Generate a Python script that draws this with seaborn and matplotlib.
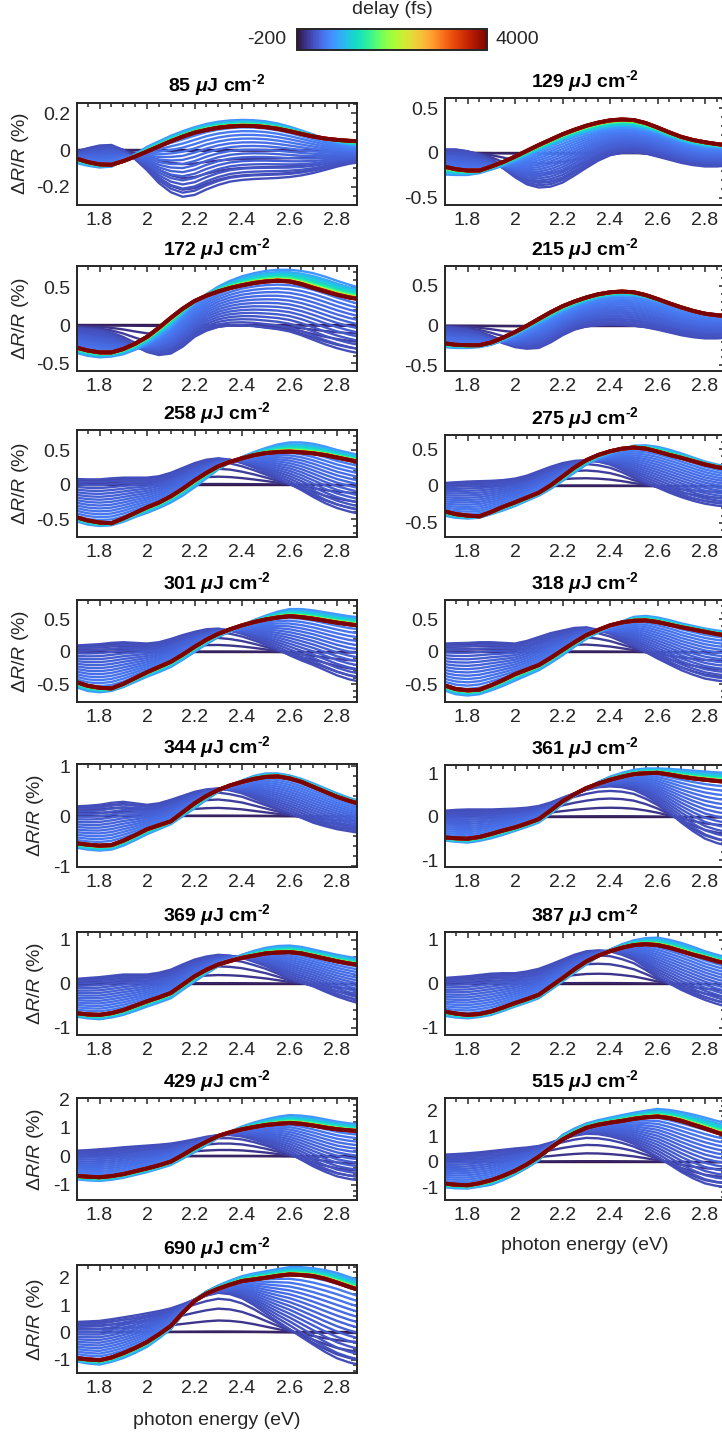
import numpy as np
import pandas as pd
import matplotlib
matplotlib.use("Agg")
import matplotlib.pyplot as plt
import seaborn as sns
from matplotlib.ticker import AutoMinorLocator, FixedLocator, FormatStrFormatter
from matplotlib.cm import ScalarMappable
from matplotlib.colors import Normalize

# ------------------------------------------------------------------ data
energy_eV = [1.70, 1.75, 1.80, 1.85, 1.90, 1.95, 2.00, 2.05, 2.10, 2.15, 2.20, 2.25, 2.30,
             2.35, 2.40, 2.45, 2.50, 2.55, 2.60, 2.65, 2.70, 2.75, 2.80, 2.85, 2.90]
fluences = [85, 129, 172, 215, 258, 275, 301, 318, 344, 361, 369, 387, 429, 515, 690]

delays_fs = [-200, -100, 0, 50, 100, 150,
             170, 190, 210, 230, 250, 270, 290, 310, 330, 350, 375, 400, 430, 470, 520, 600,
             750, 900, 1000, 1200, 1400, 1700, 2000, 2400, 2800, 3200, 3600, 3800, 4000]
# progress of each delay: 0 = no signal, 1 = early spectrum, 2 = maximum spectrum, 3 = final spectrum
progress = [0.0, 0.02, 0.3, 0.6, 0.85, 1.0,
            1.0625, 1.125, 1.1875, 1.25, 1.3125, 1.375, 1.4375, 1.5, 1.5625, 1.625, 1.6875, 1.75,
            1.8125, 1.875, 1.9375, 2.0,
            2.2, 2.35, 2.48, 2.62, 2.72, 2.8, 2.86, 2.9, 2.93, 2.96, 2.98, 2.99, 3.0]

early_85 = [-0.01, 0.01, 0.025, 0.028, 0.0, -0.05, -0.11, -0.18, -0.23, -0.255, -0.245, -0.215, -0.19,
            -0.172, -0.163, -0.158, -0.155, -0.152, -0.147, -0.138, -0.125, -0.108, -0.09, -0.075, -0.065]
peak_85 = [-0.07, -0.085, -0.095, -0.09, -0.06, -0.022, 0.018, 0.048, 0.078, 0.103, 0.125, 0.143, 0.155,
           0.162, 0.165, 0.163, 0.157, 0.145, 0.128, 0.107, 0.085, 0.062, 0.042, 0.028, 0.02]
final_85 = [-0.045, -0.065, -0.078, -0.08, -0.06, -0.035, -0.008, 0.02, 0.048, 0.073, 0.095, 0.11, 0.122,
            0.129, 0.132, 0.131, 0.125, 0.116, 0.103, 0.088, 0.074, 0.063, 0.056, 0.051, 0.048]

early_129 = [0.04, 0.04, 0.02, -0.02, -0.08, -0.17, -0.27, -0.35, -0.385, -0.375, -0.33, -0.25, -0.165,
             -0.085, -0.025, 0.005, 0.01, -0.005, -0.04, -0.075, -0.11, -0.135, -0.15, -0.15, -0.14]
peak_129 = [-0.24, -0.245, -0.245, -0.225, -0.185, -0.14, -0.09, -0.035, 0.02, 0.075, 0.13, 0.18, 0.22,
            0.255, 0.275, 0.285, 0.28, 0.255, 0.22, 0.175, 0.13, 0.095, 0.07, 0.06, 0.055]
final_129 = [-0.15, -0.18, -0.195, -0.195, -0.15, -0.1, -0.04, 0.025, 0.09, 0.15, 0.21, 0.26, 0.305,
             0.34, 0.365, 0.375, 0.368, 0.335, 0.285, 0.23, 0.18, 0.145, 0.12, 0.1, 0.085]

early_172 = [-0.04, -0.05, -0.07, -0.11, -0.18, -0.27, -0.35, -0.39, -0.37, -0.28, -0.15, -0.07, -0.02,
             0.0, 0.0, -0.01, -0.03, -0.05, -0.08, -0.13, -0.19, -0.25, -0.3, -0.34, -0.37]
peak_172 = [-0.36, -0.4, -0.42, -0.41, -0.38, -0.32, -0.24, -0.14, -0.02, 0.14, 0.29, 0.41, 0.51,
            0.585, 0.645, 0.685, 0.715, 0.73, 0.73, 0.715, 0.685, 0.64, 0.585, 0.535, 0.49]
final_172 = [-0.29, -0.33, -0.355, -0.355, -0.31, -0.24, -0.15, -0.03, 0.1, 0.22, 0.32, 0.39, 0.445,
             0.49, 0.525, 0.555, 0.575, 0.585, 0.575, 0.54, 0.49, 0.445, 0.4, 0.365, 0.34]

early_215 = [-0.02, -0.03, -0.05, -0.09, -0.15, -0.22, -0.27, -0.29, -0.28, -0.21, -0.12, -0.05, -0.01,
             0.01, 0.02, 0.015, 0.0, -0.02, -0.05, -0.085, -0.12, -0.145, -0.16, -0.16, -0.15]
peak_215 = [-0.27, -0.28, -0.28, -0.27, -0.24, -0.185, -0.12, -0.045, 0.03, 0.105, 0.18, 0.245, 0.3,
            0.345, 0.37, 0.38, 0.375, 0.35, 0.31, 0.265, 0.22, 0.185, 0.16, 0.145, 0.14]
final_215 = [-0.22, -0.24, -0.245, -0.245, -0.21, -0.15, -0.08, 0.0, 0.085, 0.17, 0.245, 0.305, 0.355,
             0.395, 0.42, 0.43, 0.42, 0.385, 0.335, 0.28, 0.23, 0.185, 0.15, 0.13, 0.12]

early_258 = [0.08, 0.075, 0.075, 0.09, 0.1, 0.1, 0.1, 0.12, 0.17, 0.24, 0.31, 0.36, 0.38,
             0.36, 0.31, 0.245, 0.17, 0.09, 0.01, -0.08, -0.18, -0.27, -0.34, -0.39, -0.43]
peak_258 = [-0.53, -0.58, -0.6, -0.59, -0.54, -0.47, -0.41, -0.34, -0.26, -0.16, -0.04, 0.09, 0.22,
            0.32, 0.4, 0.47, 0.53, 0.58, 0.61, 0.61, 0.59, 0.55, 0.5, 0.46, 0.42]
final_258 = [-0.47, -0.52, -0.55, -0.56, -0.49, -0.41, -0.33, -0.26, -0.17, -0.06, 0.06, 0.17, 0.265,
             0.33, 0.38, 0.425, 0.455, 0.47, 0.475, 0.465, 0.45, 0.425, 0.39, 0.355, 0.32]

early_275 = [0.04, 0.05, 0.06, 0.065, 0.07, 0.08, 0.1, 0.14, 0.2, 0.26, 0.31, 0.34, 0.35,
             0.33, 0.29, 0.22, 0.13, 0.05, -0.02, -0.09, -0.15, -0.2, -0.24, -0.265, -0.28]
peak_275 = [-0.4, -0.43, -0.44, -0.43, -0.38, -0.33, -0.27, -0.2, -0.13, -0.04, 0.07, 0.18, 0.29,
            0.38, 0.44, 0.5, 0.545, 0.55, 0.53, 0.49, 0.44, 0.385, 0.33, 0.29, 0.26]
final_275 = [-0.34, -0.38, -0.4, -0.41, -0.35, -0.28, -0.22, -0.155, -0.09, 0.01, 0.13, 0.25, 0.35,
             0.42, 0.47, 0.505, 0.52, 0.505, 0.465, 0.42, 0.38, 0.335, 0.29, 0.255, 0.23]

early_301 = [0.1, 0.11, 0.12, 0.14, 0.15, 0.14, 0.13, 0.15, 0.2, 0.26, 0.31, 0.35, 0.36,
             0.33, 0.28, 0.21, 0.13, 0.04, -0.05, -0.13, -0.2, -0.28, -0.36, -0.42, -0.46]
peak_301 = [-0.54, -0.6, -0.62, -0.6, -0.54, -0.46, -0.38, -0.31, -0.23, -0.12, 0.0, 0.12, 0.23,
            0.32, 0.41, 0.49, 0.56, 0.62, 0.66, 0.66, 0.64, 0.61, 0.58, 0.55, 0.53]
final_301 = [-0.46, -0.52, -0.55, -0.56, -0.49, -0.4, -0.31, -0.23, -0.15, -0.04, 0.08, 0.19, 0.28,
             0.35, 0.41, 0.46, 0.5, 0.53, 0.55, 0.535, 0.51, 0.48, 0.45, 0.425, 0.4]

early_318 = [0.13, 0.135, 0.14, 0.15, 0.15, 0.14, 0.13, 0.17, 0.23, 0.29, 0.33, 0.37, 0.38,
             0.34, 0.28, 0.19, 0.1, 0.0, -0.1, -0.19, -0.28, -0.35, -0.41, -0.44, -0.46]
peak_318 = [-0.59, -0.65, -0.67, -0.65, -0.59, -0.52, -0.44, -0.36, -0.28, -0.17, -0.05, 0.08, 0.2,
            0.3, 0.39, 0.47, 0.54, 0.555, 0.53, 0.49, 0.44, 0.4, 0.36, 0.33, 0.31]
final_318 = [-0.51, -0.57, -0.59, -0.58, -0.51, -0.43, -0.34, -0.27, -0.2, -0.09, 0.03, 0.15, 0.26,
             0.34, 0.41, 0.455, 0.48, 0.485, 0.46, 0.42, 0.38, 0.345, 0.31, 0.275, 0.25]

early_344 = [0.2, 0.21, 0.23, 0.27, 0.29, 0.26, 0.23, 0.26, 0.33, 0.41, 0.49, 0.54, 0.56,
             0.52, 0.46, 0.36, 0.26, 0.16, 0.07, -0.03, -0.13, -0.2, -0.26, -0.3, -0.34]
peak_344 = [-0.63, -0.67, -0.69, -0.67, -0.59, -0.48, -0.36, -0.26, -0.16, 0.0, 0.16, 0.33, 0.49,
            0.62, 0.72, 0.81, 0.86, 0.86, 0.82, 0.75, 0.66, 0.56, 0.46, 0.37, 0.3]
final_344 = [-0.54, -0.57, -0.59, -0.58, -0.49, -0.38, -0.26, -0.18, -0.1, 0.08, 0.26, 0.41, 0.53,
             0.62, 0.69, 0.75, 0.79, 0.8, 0.76, 0.69, 0.59, 0.49, 0.39, 0.31, 0.24]

early_361 = [0.14, 0.16, 0.17, 0.17, 0.17, 0.18, 0.19, 0.21, 0.25, 0.33, 0.44, 0.54, 0.62,
             0.68, 0.7, 0.68, 0.62, 0.49, 0.32, 0.1, -0.13, -0.33, -0.5, -0.6, -0.67]
peak_361 = [-0.54, -0.57, -0.59, -0.55, -0.49, -0.41, -0.32, -0.23, -0.13, 0.07, 0.29, 0.48, 0.66,
            0.8, 0.92, 1.01, 1.08, 1.11, 1.11, 1.1, 1.08, 1.06, 1.04, 1.02, 1.01]
final_361 = [-0.47, -0.49, -0.5, -0.46, -0.39, -0.31, -0.24, -0.15, -0.05, 0.15, 0.36, 0.52, 0.66,
             0.76, 0.85, 0.92, 0.98, 1.0, 1.01, 0.97, 0.92, 0.88, 0.85, 0.82, 0.8]

early_369 = [0.11, 0.13, 0.15, 0.18, 0.21, 0.21, 0.21, 0.25, 0.32, 0.44, 0.55, 0.62, 0.66,
             0.64, 0.59, 0.5, 0.4, 0.27, 0.13, 0.03, -0.06, -0.18, -0.29, -0.38, -0.46]
peak_369 = [-0.75, -0.79, -0.81, -0.77, -0.71, -0.62, -0.52, -0.43, -0.33, -0.14, 0.05, 0.23, 0.4,
            0.54, 0.66, 0.75, 0.82, 0.86, 0.87, 0.84, 0.78, 0.72, 0.66, 0.61, 0.57]
final_369 = [-0.67, -0.7, -0.71, -0.67, -0.6, -0.5, -0.4, -0.31, -0.21, -0.02, 0.17, 0.32, 0.44,
             0.52, 0.59, 0.64, 0.69, 0.71, 0.72, 0.69, 0.63, 0.57, 0.51, 0.46, 0.42]

early_387 = [0.13, 0.15, 0.17, 0.2, 0.23, 0.24, 0.24, 0.28, 0.34, 0.44, 0.55, 0.66, 0.74,
             0.76, 0.74, 0.66, 0.55, 0.37, 0.17, 0.01, -0.14, -0.26, -0.37, -0.46, -0.54]
peak_387 = [-0.73, -0.77, -0.79, -0.76, -0.71, -0.62, -0.52, -0.43, -0.33, -0.14, 0.05, 0.25, 0.44,
            0.62, 0.78, 0.9, 0.99, 1.04, 1.05, 1.0, 0.93, 0.84, 0.74, 0.66, 0.59]
final_387 = [-0.63, -0.68, -0.71, -0.69, -0.63, -0.54, -0.44, -0.35, -0.25, -0.06, 0.13, 0.33, 0.51,
             0.64, 0.74, 0.82, 0.88, 0.9, 0.88, 0.82, 0.74, 0.66, 0.59, 0.51, 0.45]

early_429 = [0.2, 0.22, 0.25, 0.28, 0.32, 0.35, 0.38, 0.41, 0.45, 0.52, 0.6, 0.69, 0.75,
             0.75, 0.7, 0.59, 0.45, 0.28, 0.1, -0.12, -0.35, -0.54, -0.7, -0.79, -0.85]
peak_429 = [-0.8, -0.84, -0.86, -0.82, -0.75, -0.65, -0.55, -0.43, -0.3, -0.08, 0.15, 0.4, 0.65,
            0.87, 1.05, 1.19, 1.3, 1.39, 1.45, 1.43, 1.38, 1.3, 1.22, 1.16, 1.12]
final_429 = [-0.68, -0.71, -0.73, -0.69, -0.62, -0.52, -0.42, -0.31, -0.18, 0.05, 0.3, 0.52, 0.72,
             0.85, 0.95, 1.03, 1.1, 1.14, 1.17, 1.14, 1.08, 1.01, 0.95, 0.91, 0.88]

early_515 = [0.28, 0.3, 0.33, 0.37, 0.42, 0.47, 0.52, 0.56, 0.62, 0.75, 0.9, 1.02, 1.1,
             1.08, 1.0, 0.87, 0.7, 0.46, 0.2, -0.1, -0.4, -0.65, -0.85, -0.95, -1.0]
peak_515 = [-1.0, -1.04, -1.05, -0.98, -0.9, -0.72, -0.5, -0.24, 0.05, 0.55, 1.05, 1.3, 1.5,
            1.63, 1.73, 1.83, 1.92, 2.0, 2.07, 2.03, 1.95, 1.85, 1.73, 1.6, 1.5]
final_515 = [-0.85, -0.9, -0.92, -0.84, -0.72, -0.55, -0.35, -0.1, 0.2, 0.55, 0.87, 1.12, 1.33,
             1.45, 1.53, 1.6, 1.68, 1.74, 1.77, 1.71, 1.6, 1.45, 1.3, 1.14, 1.0]

early_690 = [0.38, 0.4, 0.42, 0.48, 0.55, 0.62, 0.7, 0.78, 0.88, 1.03, 1.2, 1.35, 1.45,
             1.4, 1.25, 1.0, 0.7, 0.4, 0.12, -0.17, -0.45, -0.72, -0.95, -1.1, -1.2]
peak_690 = [-1.06, -1.14, -1.18, -1.08, -0.94, -0.75, -0.53, -0.22, 0.12, 0.65, 1.2, 1.5, 1.72,
            1.9, 2.06, 2.16, 2.24, 2.32, 2.39, 2.39, 2.35, 2.28, 2.18, 2.03, 1.88]
final_690 = [-0.94, -0.99, -1.02, -0.92, -0.76, -0.57, -0.35, -0.07, 0.24, 0.72, 1.15, 1.42, 1.6,
             1.75, 1.88, 1.94, 2.0, 2.07, 2.12, 2.1, 2.06, 1.96, 1.82, 1.67, 1.53]

spectra = {
    85: (early_85, peak_85, final_85), 129: (early_129, peak_129, final_129),
    172: (early_172, peak_172, final_172), 215: (early_215, peak_215, final_215),
    258: (early_258, peak_258, final_258), 275: (early_275, peak_275, final_275),
    301: (early_301, peak_301, final_301), 318: (early_318, peak_318, final_318),
    344: (early_344, peak_344, final_344), 361: (early_361, peak_361, final_361),
    369: (early_369, peak_369, final_369), 387: (early_387, peak_387, final_387),
    429: (early_429, peak_429, final_429), 515: (early_515, peak_515, final_515),
    690: (early_690, peak_690, final_690),
}

# ------------------------------------------------------------------ axis settings
ylims = {85: (-0.3, 0.26), 129: (-0.58, 0.61), 172: (-0.6, 0.78), 215: (-0.57, 0.75),
         258: (-0.76, 0.79), 275: (-0.69, 0.69), 301: (-0.77, 0.8), 318: (-0.77, 0.8),
         344: (-1.02, 1.05), 361: (-1.15, 1.19), 369: (-1.17, 1.18), 387: (-1.17, 1.18),
         429: (-1.53, 2.05), 515: (-1.5, 2.5), 690: (-1.49, 2.47)}
yticks = {85: [-0.2, 0, 0.2]}
for f in [129, 172, 215, 258, 275, 301, 318]:
    yticks[f] = [-0.5, 0, 0.5]
for f in [344, 361, 369, 387]:
    yticks[f] = [-1, 0, 1]
for f in [429, 515, 690]:
    yticks[f] = [-1, 0, 1, 2]
xticks = [1.8, 2.0, 2.2, 2.4, 2.6, 2.8]

# panel boxes in pixels: (left, top, width, height)
boxes = {85: (77, 102.5, 280, 102.5), 129: (445, 98.3, 280, 106.7),
         172: (77, 266, 280, 105), 215: (445, 266, 280, 105),
         258: (77, 430, 280, 107), 275: (445, 435, 280, 102),
         301: (77, 600, 280, 102), 318: (445, 600, 280, 102),
         344: (77, 764, 280, 103), 361: (445, 765, 280, 102),
         369: (77, 932, 280, 103), 387: (445, 932, 280, 103),
         429: (77, 1098, 280, 102), 515: (445, 1098, 280, 102),
         690: (77, 1265, 280, 108)}

# ------------------------------------------------------------------ style
sns.set_theme(style="white")
plt.rcParams["font.family"] = ["Liberation Sans", "DejaVu Sans"]
plt.rcParams.update({
    "mathtext.fontset": "custom",
    "mathtext.rm": "Liberation Sans",
    "mathtext.it": "Liberation Sans:italic",
    "mathtext.bf": "Liberation Sans:bold",
    "mathtext.bfit": "Liberation Sans:italic:bold",
    "axes.unicode_minus": False,
})

W, H = 722, 1439
fig = plt.figure(figsize=(W / 100, H / 100), dpi=100)
fig.patch.set_facecolor("white")


def add_axes_px(left, top, width, height):
    return fig.add_axes([left / W, 1 - (top + height) / H, width / W, height / H])


dark = "#262626"
cmap = "turbo"
norm = (-200, 4000)

for f in fluences:
    early, peak, final = (np.array(s) for s in spectra[f])
    rows = []
    for d, p in zip(delays_fs, progress):
        if p <= 1:
            spec = p * early
        elif p <= 2:
            spec = (2 - p) * early + (p - 1) * peak
        else:
            spec = (3 - p) * peak + (p - 2) * final
        for e, v in zip(energy_eV, spec):
            rows.append((d, e, v))
    df = pd.DataFrame(rows, columns=["delay", "energy", "dR"])

    ax = add_axes_px(*boxes[f])
    sns.lineplot(data=df, x="energy", y="dR", hue="delay", palette=cmap,
                 hue_norm=norm, estimator=None, sort=False, legend=False,
                 linewidth=1.7, ax=ax)
    # the latest delays are drawn a little heavier, as in the reference
    for line, d in zip(ax.lines, sorted(delays_fs)):
        if d >= 3200:
            line.set_linewidth(2.8)
    ax.set_xlim(1.705, 2.884)
    ax.set_ylim(*ylims[f])
    ax.xaxis.set_major_locator(FixedLocator(xticks))
    ax.yaxis.set_major_locator(FixedLocator(yticks[f]))
    ax.xaxis.set_major_formatter(FormatStrFormatter("%g"))
    ax.yaxis.set_major_formatter(FormatStrFormatter("%g"))
    ax.xaxis.set_minor_locator(AutoMinorLocator(4))
    step = yticks[f][1] - yticks[f][0]
    ax.yaxis.set_minor_locator(AutoMinorLocator(4 if abs(step - 0.2) < 1e-9 else 5))
    ax.tick_params(which="both", direction="in", top=True, right=True,
                   color=dark, labelcolor=dark, labelsize=14, width=1.1)
    ax.tick_params(which="major", length=4.5, pad=5)
    ax.tick_params(which="minor", length=2.6)
    for s in ax.spines.values():
        s.set_linewidth(1.4)
        s.set_color(dark)
    ax.set_title(f"{f} " + "$\\mathbfit{\\mu}$J cm$^{\\mathbf{\u20102}}$",
                 fontsize=14, fontweight="bold", color="black", pad=8)
    if boxes[f][0] < 200:
        ax.set_ylabel(r"$\Delta R/R$ (%)", fontsize=14, color=dark)
        wide = min(yticks[f]) > -0.9
        ax.yaxis.set_label_coords(-0.163 if wide else -0.11, 0.5)
    else:
        ax.set_ylabel("")
    if f in (515, 690):
        ax.set_xlabel("photon energy (eV)", fontsize=14, color=dark)
        ax.xaxis.set_label_coords(0.5, -0.36)
    else:
        ax.set_xlabel("")

# ------------------------------------------------------------------ colorbar
cax = add_axes_px(297, 29, 190, 21)
sm = ScalarMappable(norm=Normalize(*norm), cmap=cmap)
cb = fig.colorbar(sm, cax=cax, orientation="horizontal")
cb.set_ticks([])
cb.outline.set_linewidth(1.4)
cb.outline.set_edgecolor(dark)
fig.text(392 / W, 1 - 10 / H, "delay (fs)", ha="center", va="center", fontsize=14, color=dark)
fig.text(286 / W, 1 - 40 / H, "-200", ha="right", va="center", fontsize=14, color=dark)
fig.text(495 / W, 1 - 40 / H, "4000", ha="left", va="center", fontsize=14, color=dark)

fig.savefig("out.png", dpi=100)
